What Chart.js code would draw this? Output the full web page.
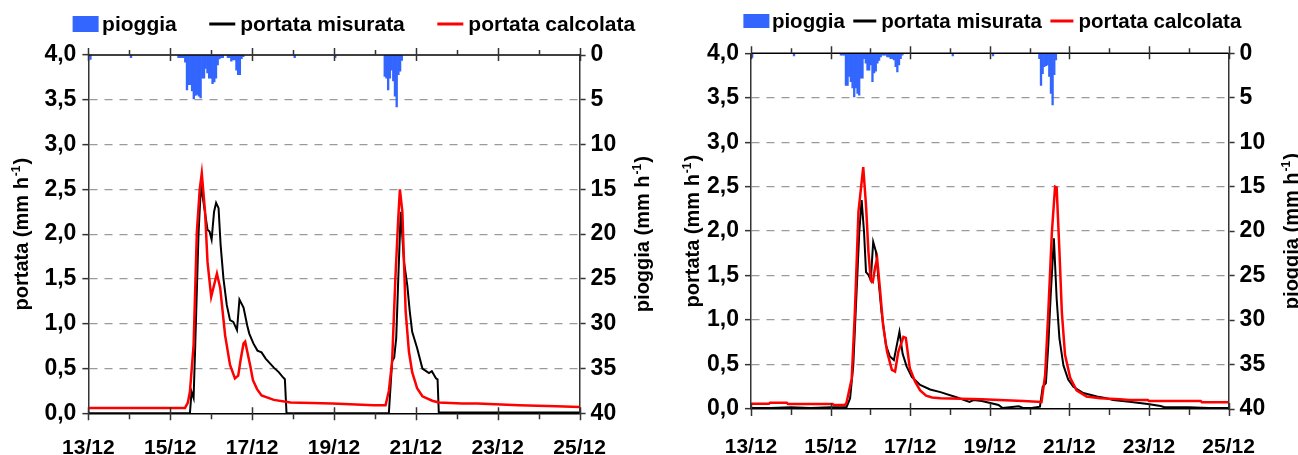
<!DOCTYPE html>
<html>
<head>
<meta charset="utf-8">
<script src="https://cdn.jsdelivr.net/npm/chart.js@4.4.1/dist/chart.umd.min.js"></script>
<style>
html,body{margin:0;padding:0;background:#fff;}
#wrap{position:relative;width:1298px;height:455px;overflow:hidden;background:#fff;}
#cL{position:absolute;left:0;top:0;}
#cR{position:absolute;left:650px;top:0;}
</style>
</head>
<body>
<div id="wrap">
<canvas id="cL" width="660" height="455"></canvas>
<canvas id="cR" width="648" height="455"></canvas>
</div>
<script>
// ---------- tick labels / names ----------
const dayLabels = ['13/12','14/12','15/12','16/12','17/12','18/12','19/12','20/12','21/12','22/12','23/12','24/12','25/12'];
const seriesNames = ['pioggia','portata misurata','portata calcolata'];
const titleLeft = ['portata (mm h', '-1', ')'];
const titleRight = ['pioggia (mm h', '-1', ')'];

// ---------- LEFT PANEL (x = days after 13/12 00:00) ----------
const rainL1Start = 2.20;
const rainL1 = [0.3,0.3,0.3,0.3,0.8,3.9,3.3,3.3,4.0,4.9,4.5,4.4,4.6,4.8,2.6,2.6,1.5,2.0,2.6,2.6,3.2,3.0,2.6,1.1,0.45,0.3,0.3,0,0,0.3,0.3,0.7,0.55,0.55,1.7,2.2,2.2,0.4,0.2];
const rainL2Start = 7.24;
const rainL2 = [2.4,2.6,3.9,2.6,1.7,2.9,4.6,5.8,2.2,1.8,0.6];
const rainLSingle = [[0.05,0.5],[1.04,0.3],[5.04,0.3],[6.03,0.3]];
const measL = [[0,0],[2.48,0],[2.52,0.24],[2.57,0.17],[2.61,0.76],[2.69,2.0],[2.75,2.55],[2.83,2.3],[2.91,2.05],[2.96,2.03],[3.01,1.94],[3.07,2.25],[3.12,2.35],[3.18,2.29],[3.23,1.88],[3.30,1.50],[3.38,1.21],[3.46,1.04],[3.54,1.02],[3.63,0.93],[3.69,1.27],[3.79,1.18],[3.88,0.98],[3.93,0.89],[4.03,0.78],[4.13,0.70],[4.23,0.68],[4.33,0.61],[4.53,0.51],[4.65,0.46],[4.74,0.41],[4.80,0.38],[4.84,0],[7.34,0],[7.42,0.58],[7.47,0.62],[7.52,0.84],[7.57,1.5],[7.63,2.25],[7.71,1.69],[7.79,1.43],[7.85,1.14],[7.91,0.91],[8.03,0.73],[8.16,0.50],[8.32,0.45],[8.39,0.47],[8.49,0.39],[8.53,0.38],[8.56,0.01],[12,0.01]];
const calcL = [[0,0.06],[2.36,0.06],[2.43,0.12],[2.48,0.24],[2.57,0.76],[2.65,2.03],[2.72,2.50],[2.77,2.68],[2.85,2.25],[2.91,1.69],[3.00,1.30],[3.14,1.56],[3.22,1.40],[3.34,0.87],[3.46,0.54],[3.58,0.39],[3.66,0.42],[3.72,0.60],[3.79,0.78],[3.83,0.80],[3.95,0.54],[4.02,0.37],[4.12,0.27],[4.23,0.20],[4.53,0.15],[4.94,0.12],[5.96,0.11],[6.97,0.09],[7.26,0.09],[7.34,0.25],[7.42,0.58],[7.50,1.51],[7.57,2.18],[7.61,2.50],[7.67,2.25],[7.75,1.14],[7.83,0.69],[7.91,0.46],[8.03,0.28],[8.16,0.19],[8.40,0.14],[8.56,0.12],[9.13,0.11],[9.50,0.11],[10.52,0.09],[11.43,0.08],[12,0.07]];

// ---------- RIGHT PANEL ----------
const rainR1Start = 2.26;
const rainR1 = [0.2,0.2,0.2,3.6,3.6,2.6,3.2,3.9,4.9,3.9,4.5,4.7,2.8,2.8,0.6,1.1,1.9,1.9,1.3,3.2,2.2,2.0,1.1,0.8,0.4,0.2,0.2,0.2,0.4,0.4,0.6,0.6,0.75,1.5,2.1,1.3,0.6,0.2];
const rainR2Start = 7.245;
const rainR2 = [0.6,3.6,2.3,1.5,1.4,1.3,2.6,4.5,5.8,2.4,0.75];
const rainRSingle = [[0.03,0.45],[1.08,0.3],[5.07,0.3],[6.08,0.3]];
const measR = [[0,0.01],[0.5,0.01],[1.0,0.02],[1.5,0.01],[2.0,0.02],[2.40,0.02],[2.49,0.12],[2.57,0.49],[2.66,1.39],[2.72,1.99],[2.78,2.35],[2.84,1.99],[2.89,1.54],[2.95,1.51],[3.01,1.45],[3.07,1.88],[3.14,1.77],[3.20,1.47],[3.28,1.09],[3.39,0.72],[3.49,0.59],[3.59,0.55],[3.73,0.87],[3.81,0.62],[3.91,0.48],[4.04,0.36],[4.25,0.27],[4.50,0.22],[4.76,0.19],[5.18,0.13],[5.49,0.08],[5.59,0.10],[5.80,0.09],[6.22,0.045],[6.32,0.01],[6.5,0.02],[6.73,0.03],[6.85,0.01],[7.05,0.01],[7.26,0.026],[7.33,0.25],[7.41,0.29],[7.47,0.72],[7.53,1.28],[7.61,1.92],[7.68,1.24],[7.75,0.79],[7.85,0.49],[7.97,0.33],[8.10,0.25],[8.35,0.18],[8.69,0.14],[8.93,0.12],[9.10,0.10],[9.45,0.085],[9.97,0.056],[10.29,0.034],[10.39,0.02],[11.0,0.02],[11.5,0.01],[12,0.01]];
const calcR = [[0,0.06],[0.45,0.06],[0.48,0.07],[0.9,0.07],[0.93,0.056],[2.05,0.056],[2.08,0.045],[2.36,0.045],[2.40,0.07],[2.53,0.34],[2.61,1.09],[2.70,2.22],[2.82,2.72],[2.89,2.29],[2.95,1.77],[3.01,1.45],[3.06,1.43],[3.12,1.60],[3.17,1.69],[3.24,1.35],[3.32,0.94],[3.42,0.64],[3.54,0.44],[3.62,0.42],[3.70,0.64],[3.83,0.81],[3.89,0.80],[3.99,0.46],[4.12,0.31],[4.25,0.21],[4.40,0.15],[4.55,0.13],[4.76,0.12],[5.80,0.11],[6.84,0.09],[7.30,0.08],[7.39,0.38],[7.47,1.09],[7.56,1.99],[7.64,2.50],[7.68,2.49],[7.75,1.77],[7.81,1.09],[7.89,0.61],[8.02,0.35],[8.18,0.21],[8.43,0.14],[8.77,0.12],[9.27,0.11],[9.5,0.10],[9.97,0.10],[10.0,0.09],[11.3,0.09],[11.33,0.075],[12,0.075]];

// ---------- helpers ----------
const FONT = '"Liberation Sans", Arial, Helvetica, sans-serif';
const pts = a => a.map(p => ({x: p[0], y: p[1]}));
const hourly = (start, vals) => vals.map((v, i) => ({x: start + i / 24, y: v}));

function drawVTitle(ctx, xBase, yC, parts, size) {
  ctx.save();
  ctx.translate(xBase, yC);
  ctx.rotate(-Math.PI / 2);
  ctx.fillStyle = '#000';
  ctx.textBaseline = 'alphabetic';
  ctx.textAlign = 'left';
  const f1 = 'bold ' + size + 'px ' + FONT, f2 = 'bold ' + Math.round(size * 0.6) + 'px ' + FONT;
  ctx.font = f1; const w1 = ctx.measureText(parts[0]).width, w3 = ctx.measureText(parts[2]).width;
  ctx.font = f2; const w2 = ctx.measureText(parts[1]).width;
  let x0 = -(w1 + w2 + w3 + 2) / 2;
  ctx.font = f1; ctx.fillText(parts[0], x0, 0);
  ctx.font = f2; ctx.fillText(parts[1], x0 + w1 + 1, -size * 0.4);
  ctx.font = f1; ctx.fillText(parts[2], x0 + w1 + w2 + 2, 0);
  ctx.restore();
}

const decor = {
  id: 'decor',
  afterDraw(chart, args, o) {
    const {ctx, chartArea: a} = chart;
    const x = chart.scales.x;
    ctx.save();
    // top frame line (secondary x axis of the rain bars)
    ctx.strokeStyle = '#000'; ctx.lineWidth = 1.5;
    ctx.beginPath(); ctx.moveTo(a.left, a.top); ctx.lineTo(a.right, a.top); ctx.stroke();
    // x tick marks: major every 2 days crossing, minor daily outside
    ctx.strokeStyle = '#333'; ctx.lineWidth = 1.5;
    ctx.beginPath();
    for (let d = 0; d <= 12; d++) {
      const px = Math.round(x.getPixelForValue(d)) + 0.5;
      if (d % 2 === 0) {
        ctx.moveTo(px, a.bottom - 6); ctx.lineTo(px, a.bottom + 7);
        ctx.moveTo(px, a.top - 7); ctx.lineTo(px, a.top + 6);
      } else {
        ctx.moveTo(px, a.bottom); ctx.lineTo(px, a.bottom + 6);
        ctx.moveTo(px, a.top - 5); ctx.lineTo(px, a.top);
      }
    }
    ctx.stroke();
    // axis titles
    const yc = (a.top + a.bottom) / 2;
    drawVTitle(ctx, o.titleLX, yc, titleLeft, o.fs);
    drawVTitle(ctx, o.titleRX, yc, titleRight, o.fs);
    // legend
    ctx.font = 'bold ' + o.lfs + 'px ' + FONT;
    ctx.textBaseline = 'middle';
    ctx.textAlign = 'left';
    let lx = o.legX;
    chart.data.datasets.forEach((ds, i) => {
      if (ds.type === 'bar') {
        ctx.fillStyle = ds.backgroundColor;
        ctx.fillRect(lx, o.legY - o.boxH / 2, o.boxW, o.boxH);
        lx += o.boxW + o.gapBox;
      } else {
        ctx.strokeStyle = ds.borderColor; ctx.lineWidth = 3;
        ctx.beginPath(); ctx.moveTo(lx, o.legY); ctx.lineTo(lx + o.lineW, o.legY); ctx.stroke();
        lx += o.lineW + o.gapLine;
      }
      ctx.fillStyle = '#000';
      ctx.fillText(ds.label, lx, o.legY + 1);
      lx += ctx.measureText(ds.label).width + o.gapItem;
    });
    ctx.restore();
  }
};

function makeChart(id, P) {
  const rain = [...pts(P.single), ...hourly(P.r1s, P.r1), ...hourly(P.r2s, P.r2)].sort((p, q) => p.x - q.x);
  const xFont = {family: FONT, size: P.xfs, weight: 'bold'};
  const yFont = {family: FONT, size: P.yfs, weight: 'bold'};
  return new Chart(document.getElementById(id), {
    type: 'line',
    data: {
      datasets: [
        {type: 'bar', label: seriesNames[0], data: rain, xAxisID: 'x', yAxisID: 'y2',
         backgroundColor: '#3366ff', borderWidth: 0, barPercentage: 1, categoryPercentage: 1, order: 2},
        {type: 'line', label: seriesNames[1], data: pts(P.meas), xAxisID: 'x', yAxisID: 'y',
         borderColor: '#000000', borderWidth: 2, pointRadius: 0, tension: 0, fill: false, order: 1},
        {type: 'line', label: seriesNames[2], data: pts(P.calc), xAxisID: 'x', yAxisID: 'y',
         borderColor: '#ff0000', borderWidth: 2.5, pointRadius: 0, tension: 0, fill: false, order: 0}
      ]
    },
    options: {
      responsive: false, animation: false, devicePixelRatio: 1,
      layout: {padding: {top: P.top, left: 0, right: 0, bottom: 0}},
      plugins: {legend: {display: false}, tooltip: {enabled: false}, decor: P.deco},
      scales: {
        x: {type: 'linear', position: 'bottom', min: 0, max: 12, offset: false,
            grid: {display: false, drawTicks: false},
            border: {display: true, color: '#000', width: 1.5},
            ticks: {stepSize: 2, autoSkip: false, maxRotation: 0, padding: P.xpad, color: '#000', font: xFont,
                    callback: v => dayLabels[Math.round(v)]},
            afterFit: s => { s.height = P.H - P.bottom; }},
        y: {type: 'linear', position: 'left', min: 0, max: 4,
            ticks: {stepSize: 0.5, padding: 6, color: '#000', font: yFont,
                    callback: v => Number(v).toFixed(1).replace('.', ',')},
            grid: {color: c => (c.tick && (Math.abs(c.tick.value) < 1e-9 || Math.abs(c.tick.value - 4) < 1e-9)) ? 'rgba(0,0,0,0)' : '#9a9a9a',
                   lineWidth: 1.3, drawTicks: true, tickLength: 6, tickColor: '#333', tickWidth: 1.5},
            border: {display: true, color: '#333', width: 1.5, dash: [8, 7]},
            afterFit: s => { s.width = P.left; }},
        y2: {type: 'linear', position: 'right', reverse: true, min: 0, max: 40,
             ticks: {stepSize: 5, padding: 5, color: '#000', font: yFont},
             grid: {drawOnChartArea: false, drawTicks: true, tickLength: 6, tickColor: '#333', tickWidth: 1.5},
             border: {display: true, color: '#333', width: 1.5},
             afterFit: s => { s.width = P.W - P.right; }}
      }
    },
    plugins: [decor]
  });
}

makeChart('cL', {
  W: 660, H: 455, left: 88.4, right: 579.6, top: 55, bottom: 413.3, xpad: 22, xfs: 21, yfs: 23,
  single: rainLSingle, r1s: rainL1Start, r1: rainL1, r2s: rainL2Start, r2: rainL2, meas: measL, calc: calcL,
  deco: {titleLX: 28, titleRX: 649, fs: 20, lfs: 21, legX: 72.6, legY: 24, boxW: 26, boxH: 16, lineW: 26,
         gapBox: 3.5, gapLine: 5, gapItem: 32.5}
});
makeChart('cR', {
  W: 648, H: 455, left: 101, right: 578.6, top: 53.3, bottom: 409, xpad: 26, xfs: 21, yfs: 23,
  single: rainRSingle, r1s: rainR1Start, r1: rainR1, r2s: rainR2Start, r2: rainR2, meas: measR, calc: calcR,
  deco: {titleLX: 49, titleRX: 648, fs: 20, lfs: 20.5, legX: 93.4, legY: 21, boxW: 26, boxH: 14, lineW: 23,
         gapBox: 2.5, gapLine: 5, gapItem: 8.5}
});
</script>
</body>
</html>
